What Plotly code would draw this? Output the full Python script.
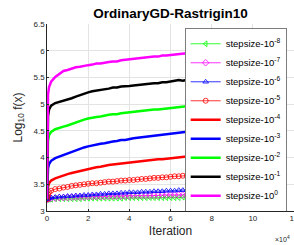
import plotly.graph_objects as go

iterations = [0, 200, 500, 1000] + list(range(2000, 100001, 2000))

s0 = [3.22, 4.85, 5.18, 5.32,
      5.42, 5.51, 5.57, 5.62, 5.64, 5.67, 5.69, 5.70, 5.72, 5.73,
      5.74, 5.76, 5.76, 5.78, 5.79, 5.80, 5.80, 5.82, 5.83, 5.84,
      5.84, 5.86, 5.86, 5.87, 5.88, 5.89, 5.89, 5.91, 5.91, 5.92,
      5.93, 5.94, 5.94, 5.95, 5.96, 5.97, 5.97, 5.99, 5.99, 6.00,
      6.00, 6.01, 6.02, 6.02, 6.03, 6.03, 6.04, 6.05, 6.05, 6.06]
s1 = [3.22, 4.55, 4.78, 4.90,
      4.97, 5.02, 5.04, 5.06, 5.08, 5.11, 5.14, 5.17, 5.20, 5.22,
      5.24, 5.25, 5.27, 5.28, 5.29, 5.31, 5.31, 5.33, 5.33, 5.34,
      5.35, 5.36, 5.37, 5.37, 5.38, 5.39, 5.39, 5.41, 5.41, 5.42,
      5.43, 5.45, 5.44, 5.46, 5.47, 5.48, 5.48, 5.50, 5.50, 5.51,
      5.51, 5.52, 5.53, 5.53, 5.54, 5.54, 5.55, 5.55, 5.56, 5.56]
s2 = [3.22, 4.15, 4.32, 4.42,
      4.48, 4.53, 4.56, 4.58, 4.60, 4.63, 4.66, 4.69, 4.71, 4.73,
      4.75, 4.76, 4.77, 4.79, 4.80, 4.81, 4.81, 4.83, 4.84, 4.85,
      4.86, 4.86, 4.88, 4.88, 4.89, 4.90, 4.90, 4.91, 4.92, 4.93,
      4.94, 4.94, 4.95, 4.96, 4.97, 4.98, 4.98, 5.00, 5.00, 5.01,
      5.01, 5.02, 5.03, 5.03, 5.04, 5.04, 5.05, 5.05, 5.06, 5.06]
s3 = [3.22, 3.65, 3.80, 3.88,
      3.94, 3.99, 4.02, 4.05, 4.07, 4.10, 4.13, 4.16, 4.19, 4.21,
      4.23, 4.24, 4.26, 4.27, 4.29, 4.30, 4.31, 4.33, 4.33, 4.35,
      4.36, 4.37, 4.38, 4.39, 4.40, 4.41, 4.42, 4.43, 4.44, 4.45,
      4.45, 4.47, 4.48, 4.48, 4.50, 4.50, 4.51, 4.51, 4.52, 4.52,
      4.53, 4.53, 4.54, 4.54, 4.55, 4.55, 4.56, 4.56, 4.57, 4.57]
s4 = [3.22, 3.36, 3.45, 3.52,
      3.57, 3.61, 3.64, 3.67, 3.69, 3.71, 3.73, 3.75, 3.77, 3.79,
      3.81, 3.82, 3.83, 3.85, 3.86, 3.87, 3.88, 3.89, 3.90, 3.91,
      3.92, 3.93, 3.94, 3.94, 3.95, 3.96, 3.97, 3.97, 3.98, 3.99,
      4.00, 4.00, 4.01, 4.02, 4.03, 4.03, 4.04, 4.05, 4.05, 4.06,
      4.07, 4.07, 4.08, 4.08, 4.09, 4.10, 4.10, 4.11, 4.11, 4.12]
s5 = [3.22, 3.27, 3.31, 3.35,
      3.38, 3.41, 3.42, 3.44, 3.45, 3.47, 3.48, 3.49, 3.50, 3.51,
      3.52, 3.52, 3.53, 3.54, 3.55, 3.55, 3.56, 3.57, 3.57, 3.58,
      3.58, 3.59, 3.60, 3.60, 3.61, 3.62, 3.62, 3.63, 3.63, 3.64,
      3.65, 3.65, 3.66, 3.66, 3.67, 3.67, 3.68, 3.68, 3.69, 3.69,
      3.70, 3.70, 3.71, 3.71, 3.72, 3.72, 3.72, 3.73, 3.73, 3.74]
s6 = [3.22, 3.23, 3.24, 3.25,
      3.25, 3.26, 3.27, 3.27, 3.28, 3.28, 3.29, 3.29, 3.30, 3.30,
      3.31, 3.31, 3.32, 3.32, 3.33, 3.33, 3.33, 3.34, 3.34, 3.35,
      3.35, 3.35, 3.36, 3.36, 3.36, 3.37, 3.37, 3.37, 3.38, 3.38,
      3.38, 3.39, 3.39, 3.39, 3.40, 3.40, 3.40, 3.40, 3.41, 3.41,
      3.41, 3.42, 3.42, 3.42, 3.43, 3.43, 3.43, 3.43, 3.44, 3.44]
s7 = [3.22, 3.22, 3.23, 3.23,
      3.24, 3.24, 3.25, 3.25, 3.25, 3.26, 3.26, 3.26, 3.26, 3.27,
      3.27, 3.27, 3.27, 3.27, 3.28, 3.28, 3.28, 3.28, 3.28, 3.28,
      3.29, 3.29, 3.29, 3.29, 3.29, 3.29, 3.29, 3.30, 3.30, 3.30,
      3.30, 3.30, 3.30, 3.30, 3.30, 3.31, 3.31, 3.31, 3.31, 3.31,
      3.31, 3.31, 3.31, 3.31, 3.31, 3.31, 3.31, 3.31, 3.31, 3.31]
s8 = [3.22, 3.22, 3.22, 3.22,
      3.22, 3.23, 3.23, 3.23, 3.23, 3.23, 3.23, 3.23, 3.24, 3.24,
      3.24, 3.24, 3.24, 3.24, 3.24, 3.24, 3.24, 3.24, 3.25, 3.25,
      3.25, 3.25, 3.25, 3.25, 3.25, 3.25, 3.25, 3.25, 3.25, 3.25,
      3.25, 3.25, 3.26, 3.26, 3.26, 3.26, 3.26, 3.26, 3.26, 3.26,
      3.26, 3.26, 3.26, 3.26, 3.26, 3.26, 3.26, 3.26, 3.26, 3.26]

labels = ["stepsize-10<sup>-8</sup>", "stepsize-10<sup>-7</sup>", "stepsize-10<sup>-6</sup>",
          "stepsize-10<sup>-5</sup>", "stepsize-10<sup>-4</sup>", "stepsize-10<sup>-3</sup>",
          "stepsize-10<sup>-2</sup>", "stepsize-10<sup>-1</sup>", "stepsize-10<sup>0</sup>"]
series = [s8, s7, s6, s5, s4, s3, s2, s1, s0]
colors = ["#00ff00", "#ff00ff", "#0000ff", "#ff0000", "#ff0000", "#0000ff", "#00ff00", "#000000", "#ff00ff"]
symbols = ["triangle-left-open", "diamond-open", "triangle-up-open", "circle-open", None, None, None, None, None]

fig = go.Figure()
for name, ys, c, sym in zip(labels, series, colors, symbols):
    if sym:
        fig.add_trace(go.Scatter(x=iterations, y=ys, name=name, mode="lines+markers",
                                 line=dict(color=c, width=0.8),
                                 marker=dict(symbol=sym, size=5, color=c, line=dict(width=0.8, color=c))))
    else:
        fig.add_trace(go.Scatter(x=iterations, y=ys, name=name, mode="lines",
                                 line=dict(color=c, width=2.5)))

axis_color = "#262626"
fig.update_layout(
    width=294, height=245,
    margin=dict(l=47, r=0, t=24, b=34, autoexpand=False),
    paper_bgcolor="white", plot_bgcolor="white",
    font=dict(family="Liberation Sans, Arial, sans-serif", color=axis_color),
    title=dict(text="<b>OrdinaryGD-Rastrigin10</b>", x=0.58, xanchor="center", y=0.945, yanchor="middle",
               font=dict(size=13.5, color="black")),
    showlegend=True,
    legend=dict(x=0.972, y=0.975, xanchor="right", yanchor="top", bgcolor="white",
                bordercolor="#262626", borderwidth=0.6, font=dict(size=9.5, color="black"),
                itemwidth=30, tracegroupgap=0),
    xaxis=dict(range=[0, 120000], tickvals=[0, 20000, 40000, 60000, 80000, 100000, 120000],
               ticktext=["0", "2", "4", "6", "8", "10", "12"], ticklabeloverflow="allow",
               automargin=False,
               showgrid=True, gridcolor="#e3e3e3", gridwidth=0.6, zeroline=False,
               showline=True, linecolor=axis_color, linewidth=0.6, ticks="inside", ticklen=2,
               tickcolor=axis_color, tickfont=dict(size=8, color=axis_color),
               title=dict(text="Iteration", font=dict(size=12, color=axis_color), standoff=4)),
    yaxis=dict(range=[3, 6.5], tickvals=[3, 3.5, 4, 4.5, 5, 5.5, 6, 6.5],
               ticktext=["3", "3.5", "4", "4.5", "5", "5.5", "6", "6.5"],
               automargin=False,
               showgrid=True, gridcolor="#e3e3e3", gridwidth=0.6, zeroline=False,
               showline=True, linecolor=axis_color, linewidth=0.6, ticks="inside", ticklen=2,
               tickcolor=axis_color, tickfont=dict(size=8, color=axis_color),
               title=dict(text="Log<sub>10</sub> f(x)", font=dict(size=12, color=axis_color), standoff=8)),
)
fig.add_annotation(text="×10<sup>4</sup>", xref="paper", yref="paper", x=0.955, y=-0.12,
                   xanchor="center", yanchor="top", showarrow=False, font=dict(size=7, color=axis_color))

fig.write_html("out.html", config={"displayModeBar": False},
               post_script="document.body.style.margin='0';document.body.style.overflow='hidden';")
